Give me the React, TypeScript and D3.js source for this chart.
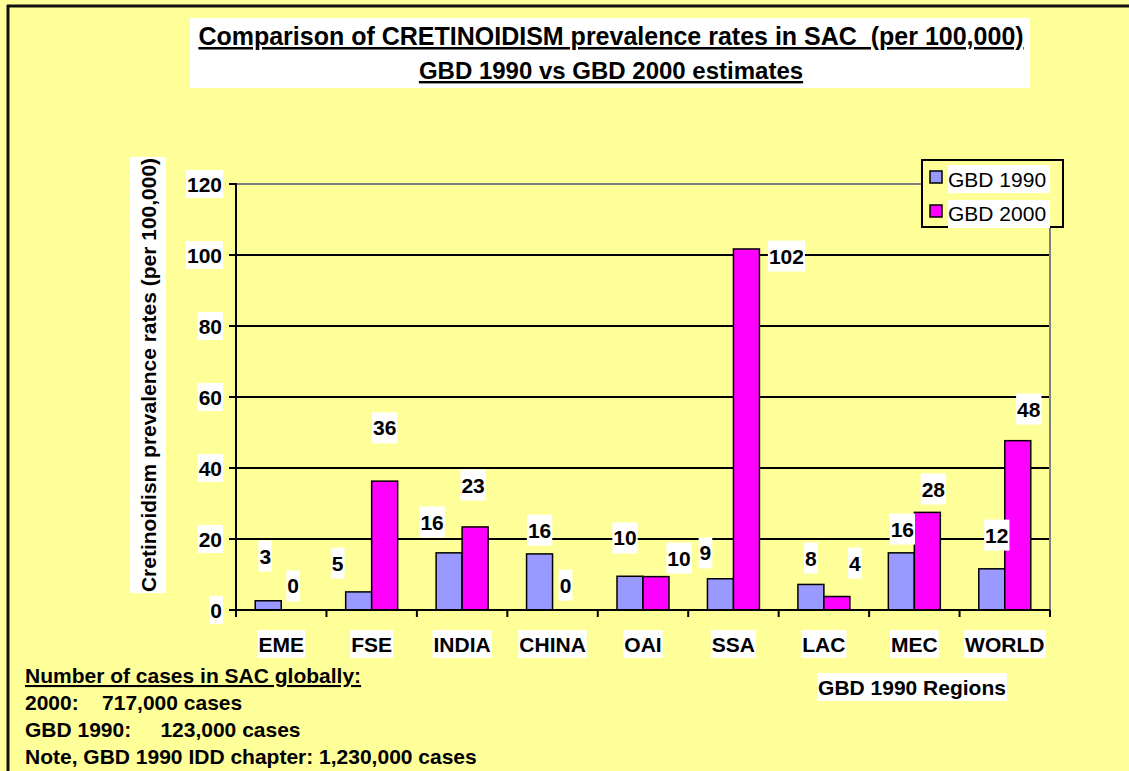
import React from "react";
import * as d3 from "d3";

const categories = ["EME", "FSE", "INDIA", "CHINA", "OAI", "SSA", "LAC", "MEC", "WORLD"];
const seriesNames = ["GBD 1990", "GBD 2000"];
const gbd1990 = [2.6, 5.1, 16.1, 15.8, 9.5, 8.8, 7.2, 16.1, 11.6];
const gbd2000 = [0, 36.3, 23.4, 0, 9.4, 101.7, 3.8, 27.5, 47.7];
const labels1990 = ["3", "5", "16", "16", "10", "9", "8", "16", "12"];
const labels2000 = ["0", "36", "23", "0", "10", "102", "4", "28", "48"];
// where the (hand-moved) data labels sit, in data units
const label1990At = [15.2, 13.2, 24.8, 22.5, 20.3, 16.1, 14.6, 22.8, 21.1];
const label2000At = [6.8, 51.3, 35.2, 7.0, 14.6, 99.7, 13.2, 34.1, 56.6];
const label1990Dx = [-3, -21, -17, 0, -5, -15, 0, 1, 5];
const label2000Dx = [-1, 0, -2, 0, 23, 40, 18, 6, 11];
const yTicks = [0, 20, 40, 60, 80, 100, 120];
const titleLines = [
  "Comparison of CRETINOIDISM prevalence rates in SAC  (per 100,000)",
  "GBD 1990 vs GBD 2000 estimates",
];
const yTitle = "Cretinoidism prevalence rates (per 100,000)";
const xTitle = "GBD 1990 Regions";
const noteHeader = "Number of cases in SAC globally:";
const noteLines = [
  "2000:    717,000 cases",
  "GBD 1990:     123,000 cases",
  "Note, GBD 1990 IDD chapter: 1,230,000 cases",
];

const FONT = "'Liberation Sans', Arial, Helvetica, sans-serif";
const BG = "#FFFF99";
const colors = ["#9999FF", "#FF00FF"];

let ctx: CanvasRenderingContext2D | null = null;
function measure(text: string, size: number, bold: boolean) {
  if (!ctx) ctx = document.createElement("canvas").getContext("2d");
  if (!ctx) return text.length * size * 0.55;
  ctx.font = `${bold ? "bold " : ""}${size}px ${FONT}`;
  return ctx.measureText(text).width;
}

function LabelBox({ x, y, text, size = 21, bold = true, anchor = "middle", padX = 1, h = 30 }: any) {
  const w = measure(text, size, bold);
  const left = anchor === "middle" ? x - w / 2 : anchor === "end" ? x - w : x;
  return (
    <g>
      <rect x={left - padX} y={y - h / 2} width={w + padX * 2} height={h} fill="#fff" />
      <text
        x={x}
        y={y + size * 0.36}
        textAnchor={anchor}
        fontFamily={FONT}
        fontSize={size}
        fontWeight={bold ? "bold" : "normal"}
        fill="#000"
      >
        {text}
      </text>
    </g>
  );
}

export default function App() {
  const W = 1129;
  const H = 771;
  const plot = { left: 236, right: 1050, top: 184, bottom: 610 };

  const y = d3.scaleLinear().domain([0, 120]).range([plot.bottom, plot.top]);
  const x0 = d3.scaleBand<string>().domain(categories).range([plot.left, plot.right]).padding(0);
  const x1 = d3.scaleBand<string>().domain(seriesNames).range([0, x0.step()]).paddingInner(0).paddingOuter(0.74);

  const series = [gbd1990, gbd2000];
  const labels = [labels1990, labels2000];
  const labelAt = [label1990At, label2000At];
  const labelDx = [label1990Dx, label2000Dx];

  const boundaries = d3.range(categories.length + 1).map((i) => plot.left + i * x0.step());
  const titleSizes = [25, 24];
  const titleBaselines = [45, 79];

  return (
    <svg
      width={W}
      height={H}
      style={{ position: "absolute", left: 0, top: 0, display: "block" }}
      xmlns="http://www.w3.org/2000/svg"
    >
      <rect x={0} y={0} width={W} height={H} fill={BG} />
      {/* slide frame */}
      <line x1={7} y1={6} x2={W} y2={6} stroke="#111" strokeWidth={3} />
      <line x1={8} y1={5} x2={8} y2={H} stroke="#111" strokeWidth={3} />

      {/* title */}
      <rect x={190} y={18} width={840} height={70} fill="#fff" />
      {titleLines.map((t, i) => (
        <text
          key={i}
          x={611}
          y={titleBaselines[i]}
          textAnchor="middle"
          fontFamily={FONT}
          fontSize={titleSizes[i]}
          fontWeight="bold"
          textDecoration="underline"
          style={{ whiteSpace: "pre" }}
        >
          {t}
        </text>
      ))}

      {/* gridlines */}
      {yTicks
        .filter((v) => v > 0 && v < 120)
        .map((v) => (
          <line key={v} x1={plot.left} x2={plot.right} y1={y(v)} y2={y(v)} stroke="#000" strokeWidth={2} />
        ))}
      <line x1={plot.left} x2={plot.right} y1={y(120)} y2={y(120)} stroke="#808080" strokeWidth={2} />
      <line x1={plot.right} x2={plot.right} y1={y(120)} y2={plot.bottom} stroke="#808080" strokeWidth={2} />

      {/* y ticks and labels */}
      {yTicks.map((v) => (
        <g key={v}>
          <line x1={plot.left - 7} x2={plot.left} y1={y(v)} y2={y(v)} stroke="#000" strokeWidth={2} />
          <LabelBox x={222} y={y(v)} text={String(v)} anchor="end" h={28} />
        </g>
      ))}

      {/* bars */}
      {categories.map((c, i) =>
        series.map((s, k) => {
          const bx = (x0(c) as number) + (x1(seriesNames[k]) as number);
          const bw = x1.bandwidth();
          if (s[i] <= 0) return null;
          return (
            <rect
              key={c + k}
              x={bx}
              y={y(s[i])}
              width={bw}
              height={y(0) - y(s[i])}
              fill={colors[k]}
              stroke="#000"
              strokeWidth={1.5}
            />
          );
        })
      )}

      {/* axes */}
      <line x1={plot.left} x2={plot.left} y1={plot.top - 1} y2={plot.bottom + 1} stroke="#000" strokeWidth={2} />
      <line x1={plot.left - 7} x2={plot.right} y1={plot.bottom} y2={plot.bottom} stroke="#000" strokeWidth={2} />
      {boundaries.map((bx, i) => (
        <line key={i} x1={bx} x2={bx} y1={plot.bottom} y2={plot.bottom + 7} stroke="#000" strokeWidth={2} />
      ))}

      {/* data labels */}
      {categories.map((c, i) =>
        series.map((s, k) => {
          const cx = (x0(c) as number) + (x1(seriesNames[k]) as number) + x1.bandwidth() / 2 + labelDx[k][i];
          return <LabelBox key={"l" + c + k} x={cx} y={y(labelAt[k][i])} text={labels[k][i]} h={31} />;
        })
      )}

      {/* category labels */}
      {categories.map((c) => (
        <LabelBox key={"c" + c} x={(x0(c) as number) + x0.bandwidth() / 2} y={644} text={c} h={28} />
      ))}

      {/* axis titles */}
      <LabelBox x={912} y={687} text={xTitle} h={28} />
      <g transform={`translate(148, 375) rotate(-90)`}>
        <LabelBox x={0} y={0} text={yTitle} h={36} />
      </g>

      {/* legend */}
      <rect x={922} y={160} width={141} height={67} fill={BG} stroke="#000" strokeWidth={2} />
      {seriesNames.map((n, k) => (
        <g key={n}>
          <rect x={930} y={171 + k * 34} width={12} height={12} fill={colors[k]} stroke="#000" strokeWidth={1.5} />
          <rect x={948} y={165 + k * 35} width={measure(n, 21, false) + 4} height={28} fill="#fff" />
          <text x={948} y={187 + k * 34} fontFamily={FONT} fontSize={21} fill="#000">
            {n}
          </text>
        </g>
      ))}

      {/* notes */}
      <text
        x={25}
        y={683}
        fontFamily={FONT}
        fontSize={21}
        fontWeight="bold"
        textDecoration="underline"
        style={{ whiteSpace: "pre" }}
      >
        {noteHeader}
      </text>
      {noteLines.map((t, i) => (
        <text
          key={i}
          x={25}
          y={710 + i * 27}
          fontFamily={FONT}
          fontSize={21}
          fontWeight="bold"
          style={{ whiteSpace: "pre" }}
        >
          {t}
        </text>
      ))}
    </svg>
  );
}
